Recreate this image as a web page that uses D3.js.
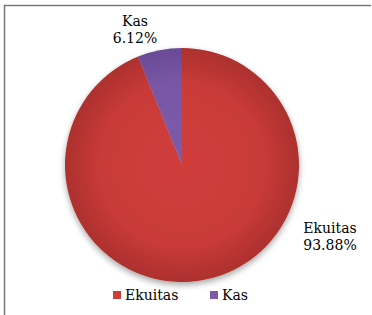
<!DOCTYPE html>
<html><head><meta charset="utf-8">
<script src="https://cdn.jsdelivr.net/npm/d3@7"></script>
<style>body{margin:0;background:#fff}svg{display:block}</style>
</head><body>
<script>
const categories = ["Ekuitas", "Kas"];
const values = [93.88, 6.12];
const labels = ["93.88%", "6.12%"];

const W = 372, H = 315;
const svg = d3.select("body").append("svg").attr("width", W).attr("height", H);
const defs = svg.append("defs");

const cx = 182, cy = 165, r = 117;
const colorsIn = ["#cf3e3b", "#7d5aaa"];
const colorsOut = ["#ad302e", "#6a4a96"];
categories.forEach((c, i) => {
  const g = defs.append("radialGradient").attr("id", "g" + i)
    .attr("gradientUnits", "userSpaceOnUse").attr("cx", cx).attr("cy", cy).attr("r", r);
  g.append("stop").attr("offset", "0%").attr("stop-color", colorsIn[i]);
  g.append("stop").attr("offset", "70%").attr("stop-color", d3.interpolateRgb(colorsIn[i], colorsOut[i])(0.2));
  g.append("stop").attr("offset", "100%").attr("stop-color", colorsOut[i]);
});
const f = defs.append("filter").attr("id", "sh").attr("x", "-20%").attr("y", "-20%").attr("width", "140%").attr("height", "140%");
f.append("feGaussianBlur").attr("in", "SourceAlpha").attr("stdDeviation", 3);
f.append("feOffset").attr("dx", 0).attr("dy", 3).attr("result", "b");
f.append("feComponentTransfer").append("feFuncA").attr("type", "linear").attr("slope", 0.35);
const m = f.append("feMerge"); m.append("feMergeNode"); m.append("feMergeNode").attr("in", "SourceGraphic");

// border
svg.append("path").attr("d", `M4.5,${H} V5.5 H371`).attr("fill", "none").attr("stroke", "#777").attr("stroke-width", 1.5);

const pie = d3.pie().sort(null).value(d => d);
const arcs = pie(values);
const arc = d3.arc().innerRadius(0).outerRadius(r);
const gp = svg.append("g").attr("transform", `translate(${cx},${cy})`).attr("filter", "url(#sh)");
gp.selectAll("path").data(arcs).join("path")
  .attr("d", arc).attr("fill", (d, i) => `url(#g${i})`)
  .attr("transform", `translate(${-cx},${-cy})`)
  .attr("d", d => arc(d)).attr("transform", null);
// gradient in user space of group: shift gradient centre accordingly
defs.selectAll("radialGradient").attr("cx", 0).attr("cy", 0);

const font = "DejaVu Serif, serif";
const lab = [
  {x: 330, y: 233},
  {x: 135, y: 26}
];
categories.forEach((c, i) => {
  const t = svg.append("text").attr("x", lab[i].x).attr("y", lab[i].y)
    .attr("text-anchor", "middle").attr("font-family", font).attr("font-size", 14).attr("fill", "#000");
  t.append("tspan").attr("x", lab[i].x).text(c);
  t.append("tspan").attr("x", lab[i].x).attr("dy", 17).text(labels[i]);
});

// legend
const lx = [113, 210];
categories.forEach((c, i) => {
  svg.append("rect").attr("x", lx[i]).attr("y", 291).attr("width", 8).attr("height", 8).attr("fill", colorsIn[i]);
  svg.append("text").attr("x", lx[i] + 12).attr("y", 300).attr("font-family", font).attr("font-size", 14).text(c);
});
</script>
</body></html>
